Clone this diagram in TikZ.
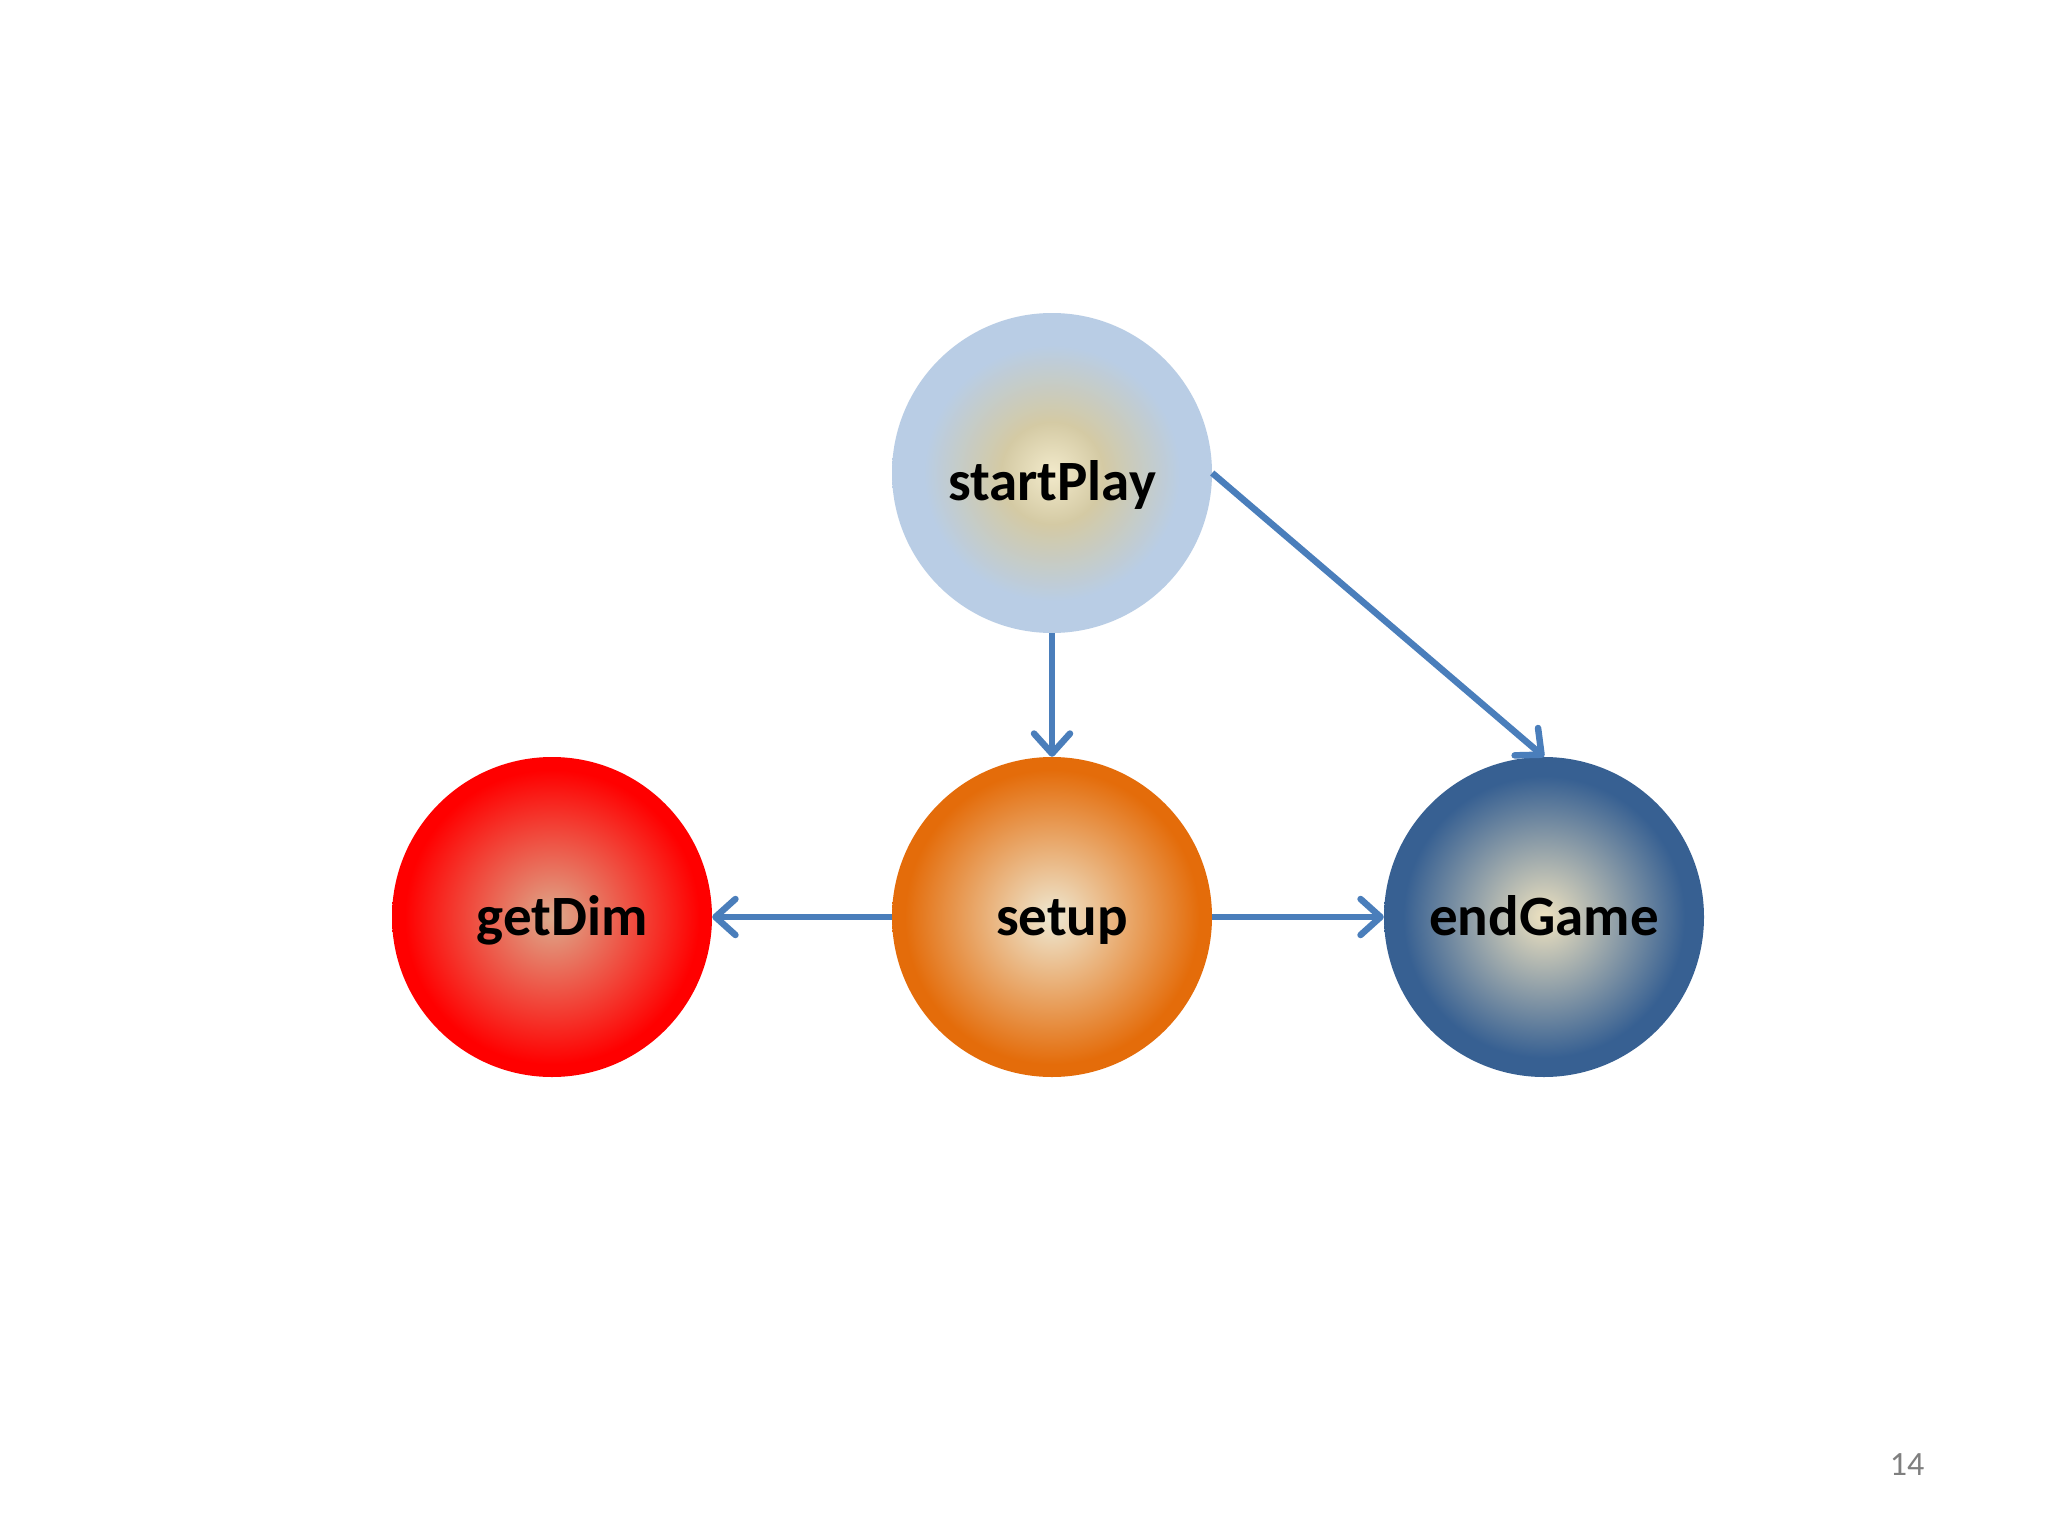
\documentclass[tikz,border=0pt]{standalone}
\usepackage{fontspec}
\setmainfont{Carlito}
\usetikzlibrary{arrows.meta}
\definecolor{arrowblue}{HTML}{4A7EBB}
\definecolor{spOut}{HTML}{B9CDE5}
\definecolor{spMid}{HTML}{D4CAA4}
\definecolor{spIn}{HTML}{F2EACB}
\definecolor{suOut}{HTML}{E46C0A}
\definecolor{suIn}{HTML}{EEE8D2}
\definecolor{gdOut}{HTML}{FF0000}
\definecolor{gdIn}{HTML}{DDAA8C}
\definecolor{egOut}{HTML}{376092}
\definecolor{egIn}{HTML}{EEE2C0}
\definecolor{pagegray}{HTML}{7F7F7F}
\pgfdeclareradialshading{spshade}{\pgfpoint{0bp}{0bp}}{color(0bp)=(spIn); color(8bp)=(spMid); color(20bp)=(spOut); color(50bp)=(spOut)}
\pgfdeclareradialshading{sushade}{\pgfpoint{0bp}{0bp}}{color(0bp)=(suIn); color(23bp)=(suOut); color(50bp)=(suOut)}
\pgfdeclareradialshading{gdshade}{\pgfpoint{0bp}{0bp}}{color(0bp)=(gdIn); color(23bp)=(gdOut); color(50bp)=(gdOut)}
\pgfdeclareradialshading{egshade}{\pgfpoint{0bp}{0bp}}{color(0bp)=(egIn); color(22bp)=(egOut); color(50bp)=(egOut)}
\tikzset{
  ball/.style={circle, minimum size=320pt, inner sep=0pt,
    font=\fontsize{57}{60}\selectfont\bfseries, text=black,
    text height=36pt, text depth=0pt},
  conn/.style={draw=arrowblue, line width=6.5pt,
    -{Straight Barb[length=20pt, width=36pt, line width=6.5pt, round]}},
  pagenum/.style={font=\fontsize{34}{40}\selectfont, text=pagegray}
}
\begin{document}
\begin{tikzpicture}[x=1pt, y=-1pt]
\useasboundingbox[fill=white] (0,0) rectangle (2048,1536);
\node[ball, shading=spshade, text height=54pt] (sp) at (1052,473) {startPlay};
\node[ball, shading=sushade] (su) at (1052,917) {\hspace*{20pt}setup};
\node[ball, shading=gdshade] (gd) at (552,917) {\hspace*{20pt}getDim};
\node[ball, shading=egshade] (eg) at (1544,917) {endGame};
\draw[conn] (sp.south) -- (su.north);
\draw[conn] (sp.east) -- (eg.north);
\draw[conn] (su.west) -- (gd.east);
\draw[conn] (su.east) -- (eg.west);
\node[pagenum] (pg) at (1907,1465) {14};
\end{tikzpicture}
\end{document}
